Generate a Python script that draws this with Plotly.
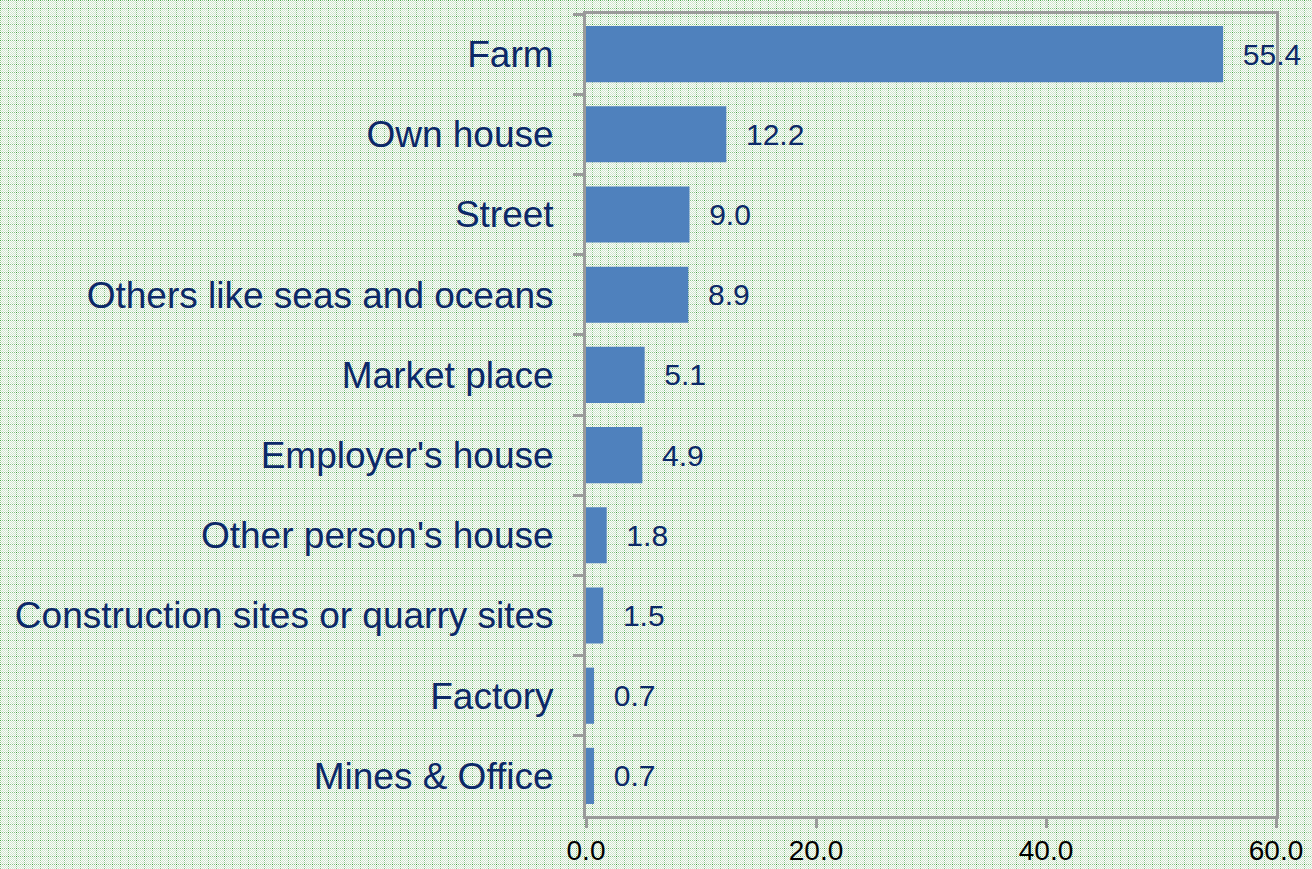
import base64
import plotly.graph_objects as go

categories = ["Farm", "Own house", "Street", "Others like seas and oceans", "Market place",
              "Employer's house", "Other person's house", "Construction sites or quarry sites",
              "Factory", "Mines & Office"]
values = [55.4, 12.2, 9.0, 8.9, 5.1, 4.9, 1.8, 1.5, 0.7, 0.7]
x_ticks = [0, 20, 40, 60]

navy = "#0c2867"

# decorative background texture (8px tile of green dots)
rects = ["<rect width='8' height='8' fill='#fbfdfb'/>"]
for yy in range(8):
    for xx in range(8):
        col = None
        if (xx + yy) % 2 == 0:
            col = "#d0e6ce"
        if xx == 0 and yy % 2 == 0:
            col = "#8cc48a"
        if yy == 0 and xx % 2 == 0:
            col = "#8cc48a"
        if xx == 0 and yy == 0:
            col = "#3c9d3a"
        if col:
            rects.append(f"<rect x='{xx}' y='{yy}' width='1' height='1' fill='{col}'/>")
svg = ("<svg xmlns='http://www.w3.org/2000/svg' width='8' height='8' shape-rendering='crispEdges'>"
       + "".join(rects) + "</svg>")
tile = "data:image/svg+xml;base64," + base64.b64encode(svg.encode()).decode()

fig = go.Figure(go.Bar(
    x=values, y=categories, orientation="h",
    marker=dict(color="#4f81bd", line=dict(width=0)),
    width=0.7,
    text=values, texttemplate="  %{x:.1f}", textposition="outside",
    textfont=dict(size=30, color=navy, family="Liberation Sans, Arial"),
    cliponaxis=False,
))
fig.update_layout(
    width=1312, height=869,
    margin=dict(l=586, r=36, t=14, b=53),
    paper_bgcolor="rgba(0,0,0,0)", plot_bgcolor="rgba(0,0,0,0)",
    font=dict(family="Liberation Sans, Arial"),
    showlegend=False,
)
fig.update_xaxes(range=[0, 60], tickvals=x_ticks, tickformat=".1f",
                 showgrid=False, zeroline=False, automargin=False,
                 showline=True, linecolor="#9a9a9a", linewidth=3, mirror=True,
                 ticks="outside", ticklen=9, tickcolor="#9a9a9a", tickwidth=3,
                 ticklabelstandoff=-2,
                 tickfont=dict(size=28, color="black"))
fig.update_yaxes(autorange="reversed", showgrid=False, automargin=False,
                 showline=True, linecolor="#9a9a9a", linewidth=3, mirror=True,
                 ticks="outside", ticklen=10, tickcolor="#9a9a9a", tickwidth=3,
                 tickson="boundaries", ticklabelstandoff=22,
                 tickfont=dict(size=37, color=navy))

post = ("document.body.style.margin='0';"
        "document.body.style.overflow='hidden';"
        "document.body.style.backgroundColor='#d5edd2';"
        f"document.body.style.backgroundImage=\"url('{tile}')\";")
fig.write_html("out.html", post_script=post, config={"displayModeBar": False})
